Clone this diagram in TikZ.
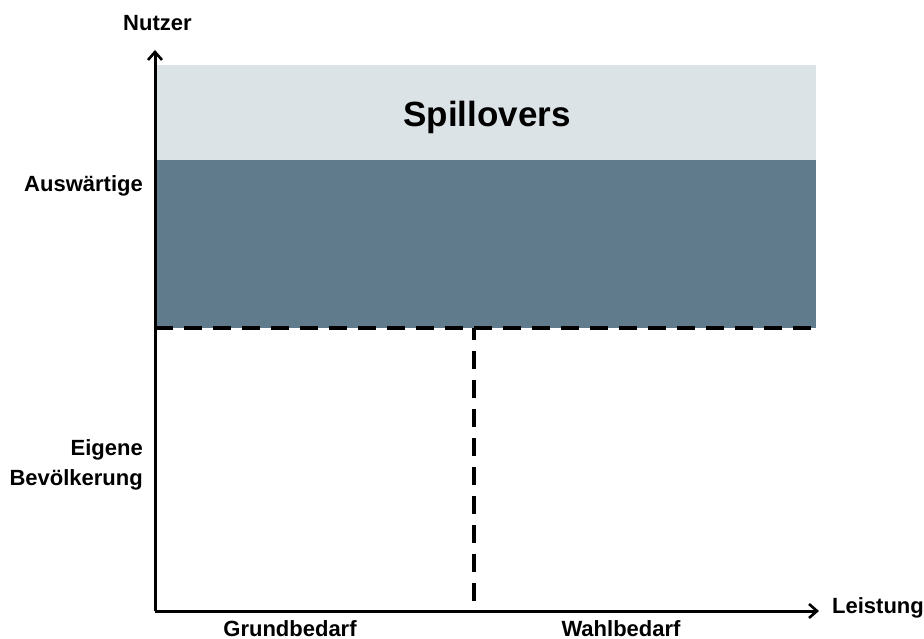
\documentclass[tikz,border=0pt]{standalone}
\usepackage{fontspec}
\setmainfont{Liberation Sans}
\usetikzlibrary{arrows.meta}
\definecolor{lightband}{HTML}{DCE3E6}
\definecolor{darkband}{HTML}{5F7B8C}
\begin{document}
\begin{tikzpicture}[x=1pt,y=-1pt,
  axis/.style={line width=3pt,-{Straight Barb[length=8pt,width=14pt,line width=2.6pt]}},
  dline/.style={line width=3.4pt,dash pattern=on 18pt off 11pt},
  lab/.style={font=\fontsize{22}{30}\selectfont\bfseries,inner sep=0pt},
]
\useasboundingbox (0,0) rectangle (924,639);
\coordinate (O) at (155,611);
\coordinate (ytip) at (155,50);
\coordinate (xtip) at (819,611);
\coordinate (hl) at (155,328);
\coordinate (hr) at (816,328);
\coordinate (vt) at (474,328);
\coordinate (vb) at (474,611);
\fill[lightband] (157,65) rectangle (816,160);
\fill[darkband] (157,160) rectangle (816,328);
\node[font=\fontsize{35}{40}\selectfont\bfseries,anchor=base,inner sep=0pt] (spill) at (487,127) {Spillovers};
\draw[dline] (hl) -- (hr);
\draw[dline,dash phase=6pt] (vt) -- (vb);
\draw[axis] (O) -- (ytip);
\draw[axis] (O) -- (xtip);
\node[lab,anchor=base east] (ausw) at (143,192) {Auswärtige};
\node[lab,anchor=base east,align=right] (eig) at (143,485) {Eigene\\Bevölkerung};
\node[lab,anchor=base west] (nutzer) at (123,31) {Nutzer};
\node[lab,anchor=base west] (leist) at (832,613) {Leistung};
\node[lab,anchor=base] (grund) at (290,636) {Grundbedarf};
\node[lab,anchor=base] (wahl) at (621,636) {Wahlbedarf};
\end{tikzpicture}
\end{document}
